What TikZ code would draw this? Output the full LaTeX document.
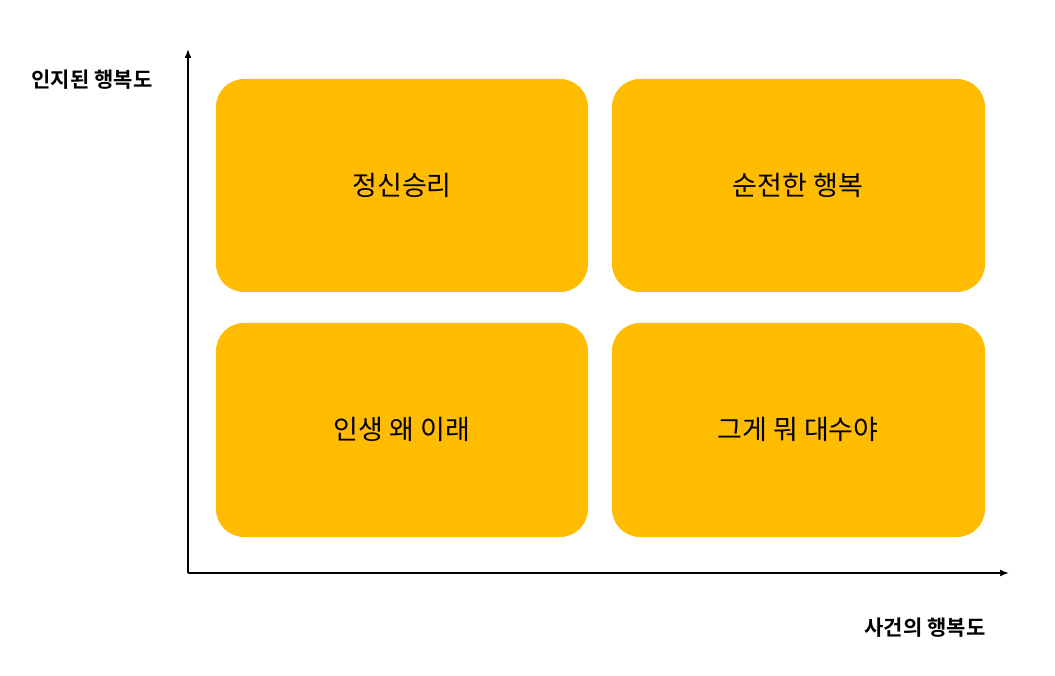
\documentclass[tikz,border=0pt]{standalone}
\usetikzlibrary{arrows.meta}
\usepackage{fontspec}
\newfontfamily\kr{Noto Sans CJK KR}
\newfontfamily\krb{Noto Sans CJK KR Bold}
\definecolor{boxy}{HTML}{FFBC00}
\begin{document}
\begin{tikzpicture}[x=1pt,y=-1pt,
  quad/.style={fill=boxy,rounded corners=28pt},
  qtext/.style={font=\kr\fontsize{27}{32}\selectfont},
  alabel/.style={font=\krb\fontsize{21}{26}\selectfont},
  axis/.style={line width=1.6pt,-{Latex[length=9pt,width=7pt]}}]
\useasboundingbox (0,0) rectangle (1055,676);
\fill[quad] (216,79) rectangle (588,292);
\fill[quad] (612,79) rectangle (985,292);
\fill[quad] (216,323) rectangle (588,537);
\fill[quad] (612,323) rectangle (985,537);
\node[qtext] (a) at (402,185) {정신승리};
\node[qtext] (b) at (798,185) {순전한 행복};
\node[qtext] (c) at (402,429) {인생 왜 이래};
\node[qtext] (d) at (798,429) {그게 뭐 대수야};
\coordinate (o) at (188,573);
\coordinate (ytop) at (188,49);
\coordinate (xend) at (1009,573);
\draw[axis] (o) -- (ytop);
\draw[axis] (o) -- (xend);
\node[alabel] (yl) at (92,80) {인지된 행복도};
\node[alabel] (xl) at (925,628) {사건의 행복도};
\end{tikzpicture}
\end{document}
